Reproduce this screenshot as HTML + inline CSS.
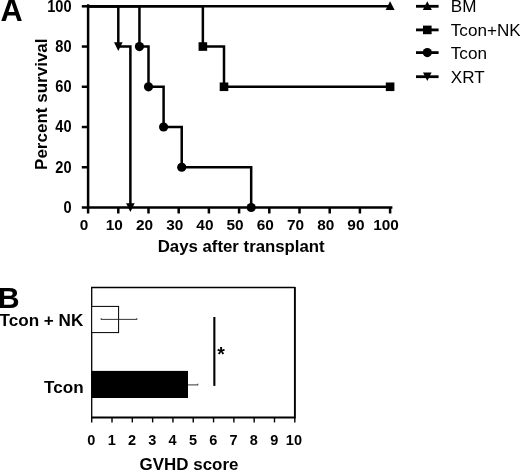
<!DOCTYPE html><html><head><meta charset="utf-8"><title>Figure</title><style>html,body{margin:0;padding:0;background:#fff}svg{display:block}text{font-family:"Liberation Sans",Arial,sans-serif;fill:#000}.b{font-weight:bold}</style></head><body>
<svg width="520" height="470" viewBox="0 0 520 470">
<defs><filter id="soft" x="0" y="0" width="520" height="470" filterUnits="userSpaceOnUse"><feGaussianBlur stdDeviation="0.45"/></filter></defs>
<rect width="520" height="470" fill="#fff"/>
<g filter="url(#soft)">
<text class="b" transform="translate(0.5 21.1) scale(0.99 1)" font-size="31" text-anchor="start">A</text>
<path d="M88.1 4.3V207.5H392.40000000000003" fill="none" stroke="#000" stroke-width="2.5"/>
<path d="M81.8 207.5H88.1" stroke="#000" stroke-width="2.5"/>
<text class="b" transform="translate(71.5 212.8) scale(0.935 1)" font-size="15.6" text-anchor="end">0</text>
<path d="M81.8 167.26H88.1" stroke="#000" stroke-width="2.5"/>
<text class="b" transform="translate(71.5 172.56) scale(0.935 1)" font-size="15.6" text-anchor="end">20</text>
<path d="M81.8 127.02H88.1" stroke="#000" stroke-width="2.5"/>
<text class="b" transform="translate(71.5 132.32) scale(0.935 1)" font-size="15.6" text-anchor="end">40</text>
<path d="M81.8 86.78H88.1" stroke="#000" stroke-width="2.5"/>
<text class="b" transform="translate(71.5 92.08) scale(0.935 1)" font-size="15.6" text-anchor="end">60</text>
<path d="M81.8 46.54H88.1" stroke="#000" stroke-width="2.5"/>
<text class="b" transform="translate(71.5 51.839999999999996) scale(0.935 1)" font-size="15.6" text-anchor="end">80</text>
<path d="M81.8 6.3H88.1" stroke="#000" stroke-width="2.5"/>
<text class="b" transform="translate(71.5 11.6) scale(0.935 1)" font-size="15.6" text-anchor="end">100</text>
<path d="M88.1 207.5v6" stroke="#000" stroke-width="2.5"/>
<text class="b" transform="translate(84.1 230.1) scale(1.04 1)" font-size="14.8" text-anchor="middle">0</text>
<path d="M118.3 207.5v6" stroke="#000" stroke-width="2.5"/>
<text class="b" transform="translate(114.3 230.1) scale(1.04 1)" font-size="14.8" text-anchor="middle">10</text>
<path d="M148.5 207.5v6" stroke="#000" stroke-width="2.5"/>
<text class="b" transform="translate(144.5 230.1) scale(1.04 1)" font-size="14.8" text-anchor="middle">20</text>
<path d="M178.7 207.5v6" stroke="#000" stroke-width="2.5"/>
<text class="b" transform="translate(174.7 230.1) scale(1.04 1)" font-size="14.8" text-anchor="middle">30</text>
<path d="M208.9 207.5v6" stroke="#000" stroke-width="2.5"/>
<text class="b" transform="translate(204.9 230.1) scale(1.04 1)" font-size="14.8" text-anchor="middle">40</text>
<path d="M239.1 207.5v6" stroke="#000" stroke-width="2.5"/>
<text class="b" transform="translate(235.1 230.1) scale(1.04 1)" font-size="14.8" text-anchor="middle">50</text>
<path d="M269.3 207.5v6" stroke="#000" stroke-width="2.5"/>
<text class="b" transform="translate(265.3 230.1) scale(1.04 1)" font-size="14.8" text-anchor="middle">60</text>
<path d="M299.5 207.5v6" stroke="#000" stroke-width="2.5"/>
<text class="b" transform="translate(295.5 230.1) scale(1.04 1)" font-size="14.8" text-anchor="middle">70</text>
<path d="M329.7 207.5v6" stroke="#000" stroke-width="2.5"/>
<text class="b" transform="translate(325.7 230.1) scale(1.04 1)" font-size="14.8" text-anchor="middle">80</text>
<path d="M359.9 207.5v6" stroke="#000" stroke-width="2.5"/>
<text class="b" transform="translate(355.9 230.1) scale(1.04 1)" font-size="14.8" text-anchor="middle">90</text>
<path d="M390.1 207.5v6" stroke="#000" stroke-width="2.5"/>
<text class="b" transform="translate(386.1 230.1) scale(1.04 1)" font-size="14.8" text-anchor="middle">100</text>
<text class="b" transform="translate(46.9 104.2) rotate(-90) scale(0.99 1)" font-size="17.2" text-anchor="middle">Percent survival</text>
<text class="b" transform="translate(241.2 252.0) scale(1.0 1)" font-size="16.8" text-anchor="middle">Days after transplant</text>
<path d="M88.1 6.3H390.1" fill="none" stroke="#000" stroke-width="2.5"/>
<path d="M390.1 1.2999999999999998l4.5 8.6h-9z" fill="#000"/>
<path d="M88.1 6.3H202.86V46.54H224.0V86.78H390.1" fill="none" stroke="#000" stroke-width="2.5"/>
<rect x="198.56" y="42.24" width="8.6" height="8.6" fill="#000"/>
<rect x="219.7" y="82.48" width="8.6" height="8.6" fill="#000"/>
<rect x="385.8" y="82.48" width="8.6" height="8.6" fill="#000"/>
<path d="M88.1 6.3H139.44V46.54H148.5V86.78H163.6V127.02H181.72V167.26H251.18V207.5" fill="none" stroke="#000" stroke-width="2.5"/>
<circle cx="139.44" cy="46.54" r="4.6" fill="#000"/>
<circle cx="148.5" cy="86.78" r="4.6" fill="#000"/>
<circle cx="163.6" cy="127.02" r="4.6" fill="#000"/>
<circle cx="181.72" cy="167.26" r="4.6" fill="#000"/>
<circle cx="251.18" cy="207.5" r="4.6" fill="#000"/>
<path d="M88.1 6.3H118.3V46.54H130.38V207.5" fill="none" stroke="#000" stroke-width="2.5"/>
<path d="M118.3 50.94l-4.3 -8.6h8.6z" fill="#000"/>
<path d="M130.38 211.9l-4.3 -8.6h8.6z" fill="#000"/>
<path d="M416.0 6.3h22.6" stroke="#000" stroke-width="2.8"/>
<path d="M427.3 1.2999999999999998l4.5 8.6h-9z" fill="#000"/>
<text transform="translate(450.8 12.0) scale(1.07 1)" font-size="16" text-anchor="start">BM</text>
<path d="M416.0 29.9h22.6" stroke="#000" stroke-width="2.8"/>
<rect x="423.0" y="25.599999999999998" width="8.6" height="8.6" fill="#000"/>
<text transform="translate(450.8 35.5) scale(1.07 1)" font-size="16" text-anchor="start">Tcon+NK</text>
<path d="M416.0 52.6h22.6" stroke="#000" stroke-width="2.8"/>
<circle cx="427.3" cy="52.6" r="4.6" fill="#000"/>
<text transform="translate(450.8 58.8) scale(1.07 1)" font-size="16" text-anchor="start">Tcon</text>
<path d="M416.0 76.7h22.6" stroke="#000" stroke-width="2.8"/>
<path d="M427.3 81.10000000000001l-4.3 -8.6h8.6z" fill="#000"/>
<text transform="translate(450.8 82.8) scale(1.07 1)" font-size="16" text-anchor="start">XRT</text>
<text class="b" transform="translate(-2.2 307.8) scale(1.0 1)" font-size="30.3" text-anchor="start">B</text>
<path d="M91.7 417.5V287.5H294.9" fill="none" stroke="#000" stroke-width="1.3"/>
<path d="M294.9 286.9V417.5H91.10000000000001" fill="none" stroke="#000" stroke-width="1.9"/>
<path d="M91.7 417.5V422.4" stroke="#000" stroke-width="1.4"/>
<text class="b" transform="translate(91.4 444.8) scale(1.0 1)" font-size="14.5" text-anchor="middle">0</text>
<path d="M112.01 417.5V422.4" stroke="#000" stroke-width="1.4"/>
<text class="b" transform="translate(111.71000000000001 444.8) scale(1.0 1)" font-size="14.5" text-anchor="middle">1</text>
<path d="M132.32 417.5V422.4" stroke="#000" stroke-width="1.4"/>
<text class="b" transform="translate(132.01999999999998 444.8) scale(1.0 1)" font-size="14.5" text-anchor="middle">2</text>
<path d="M152.63 417.5V422.4" stroke="#000" stroke-width="1.4"/>
<text class="b" transform="translate(152.32999999999998 444.8) scale(1.0 1)" font-size="14.5" text-anchor="middle">3</text>
<path d="M172.94 417.5V422.4" stroke="#000" stroke-width="1.4"/>
<text class="b" transform="translate(172.64 444.8) scale(1.0 1)" font-size="14.5" text-anchor="middle">4</text>
<path d="M193.25 417.5V422.4" stroke="#000" stroke-width="1.4"/>
<text class="b" transform="translate(192.95 444.8) scale(1.0 1)" font-size="14.5" text-anchor="middle">5</text>
<path d="M213.56 417.5V422.4" stroke="#000" stroke-width="1.4"/>
<text class="b" transform="translate(213.26 444.8) scale(1.0 1)" font-size="14.5" text-anchor="middle">6</text>
<path d="M233.87 417.5V422.4" stroke="#000" stroke-width="1.4"/>
<text class="b" transform="translate(233.57 444.8) scale(1.0 1)" font-size="14.5" text-anchor="middle">7</text>
<path d="M254.18 417.5V422.4" stroke="#000" stroke-width="1.4"/>
<text class="b" transform="translate(253.88 444.8) scale(1.0 1)" font-size="14.5" text-anchor="middle">8</text>
<path d="M274.49 417.5V422.4" stroke="#000" stroke-width="1.4"/>
<text class="b" transform="translate(274.19 444.8) scale(1.0 1)" font-size="14.5" text-anchor="middle">9</text>
<path d="M294.8 417.5V422.4" stroke="#000" stroke-width="1.4"/>
<text class="b" transform="translate(293.90000000000003 444.8) scale(1.0 1)" font-size="14.5" text-anchor="middle">10</text>
<text class="b" transform="translate(189 469.8) scale(1.06 1)" font-size="16" text-anchor="middle">GVHD score</text>
<rect x="91.7" y="306.4" width="26.89999999999999" height="26.2" fill="#fff" stroke="#000" stroke-width="1"/>
<path d="M101.2 319.4H136.8M101.2 318.2v1.6M136.8 318.2v1.6" stroke="#222" stroke-width="0.9" fill="none"/>
<rect x="91.10000000000001" y="370.9" width="96.89999999999999" height="27.1" fill="#000"/>
<path d="M188 384.9H197.8M197.8 383.7v1.6" stroke="#222" stroke-width="0.9" fill="none"/>
<path d="M214.35 317V385.9" stroke="#000" stroke-width="2.1"/>
<text class="b" transform="translate(217.2 360.7) scale(1.0 1)" font-size="19.5" text-anchor="start">*</text>
<text class="b" transform="translate(83.3 325.5) scale(1.07 1)" font-size="16" text-anchor="end">Tcon + NK</text>
<text class="b" transform="translate(83.6 393.2) scale(1.07 1)" font-size="16" text-anchor="end">Tcon</text>
</g></svg></body></html>
